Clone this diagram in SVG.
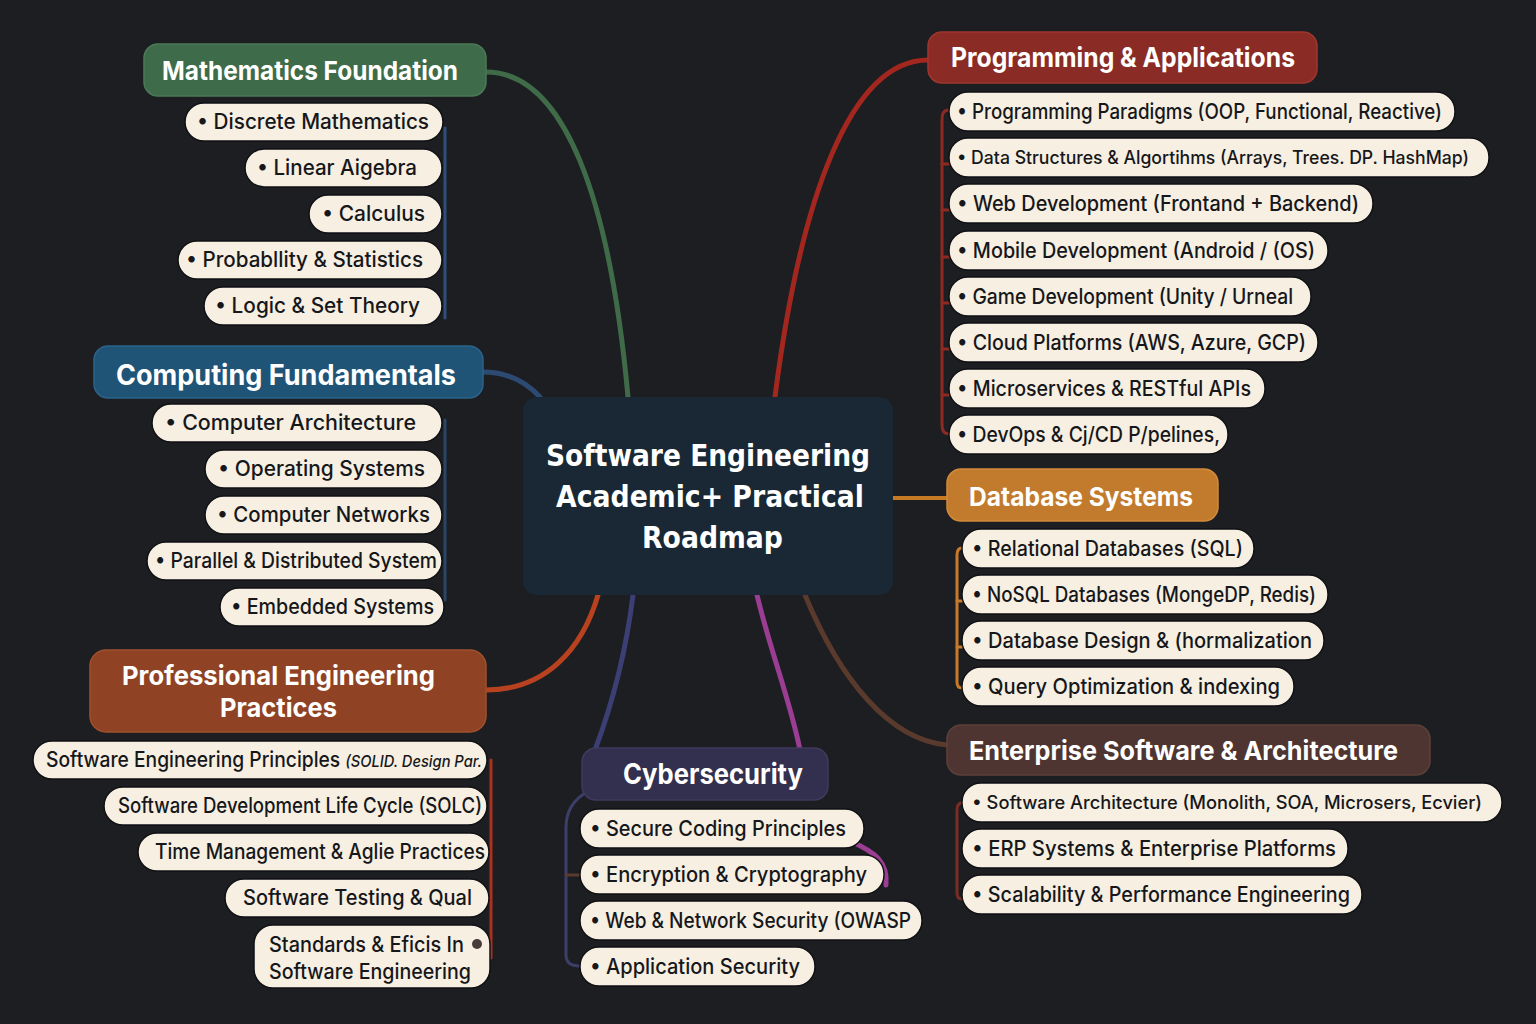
<svg xmlns="http://www.w3.org/2000/svg" width="1536" height="1024" viewBox="0 0 1536 1024">
<style>
.bg{fill:#1c1e22}
.item rect{fill:#f6efe2;stroke:#101114;stroke-width:1.5}
.it{font-family:Inter,"Noto Sans","Liberation Sans",sans-serif;font-size:21px;font-weight:500;fill:#16171a}
.itn{font-size:18px}
.ht{font-family:Inter,"Noto Sans","Liberation Sans",sans-serif;font-weight:700;fill:#ffffff}
.ct{font-family:"DejaVu Sans",Verdana,sans-serif;font-weight:700;font-size:31px;fill:#ffffff}
.conn path,.conn line{fill:none;stroke-linecap:round}
</style>
<rect class="bg" x="0" y="0" width="1536" height="1024"/>

<g id="connectors" class="conn">
  <path d="M486,72 C565,72 610,200 628,397" stroke="#3f6b48" stroke-width="5"/>
  <path d="M483,372 C510,372 528,384 540,397" stroke="#2d4b72" stroke-width="5"/>
  <path d="M775,397 C800,200 850,60 928,60" stroke="#a3271f" stroke-width="5"/>
  <line x1="893" y1="498" x2="947" y2="498" stroke="#c77a24" stroke-width="4"/>
  <path d="M805,595 C840,680 890,740 947,745" stroke="#5a3a2c" stroke-width="5"/>
  <path d="M486,690 C545,690 582,650 598,595" stroke="#b8421f" stroke-width="5"/>
  <path d="M633,595 C625,660 610,710 595,750" stroke="#3b3f73" stroke-width="5"/>
  <path d="M757,595 C770,650 790,700 800,750" stroke="#9a3d93" stroke-width="5"/>
  <path d="M852,842 C875,852 888,862 886,885" stroke="#9a3d93" stroke-width="5"/>
  <line x1="445" y1="128" x2="445" y2="318" stroke="#2f4f7a" stroke-width="3"/>
  <line x1="445" y1="420" x2="445" y2="600" stroke="#2a4566" stroke-width="3"/>
  <line x1="491" y1="760" x2="491" y2="958" stroke="#a8321f" stroke-width="3"/>
  <path d="M949,110 C943,110 942,114 942,120 L942,425 C942,430 944,434 949,434" stroke="#8e2a22" stroke-width="3"/>
  <path d="M942,164 H949 M942,210 H949 M942,257 H949 M942,303 H949 M942,349 H949 M942,395 H949" stroke="#8e2a22" stroke-width="3"/>
  <path d="M962,548 C958,548 957,551 957,555 L957,682 C957,686 959,688 962,688" stroke="#c67a2a" stroke-width="3"/>
  <path d="M957,601 H962 M957,647 H962" stroke="#c67a2a" stroke-width="3"/>
  <path d="M962,803 C958,803 957,806 957,810 L957,893 C957,897 959,899 962,899" stroke="#7a2d22" stroke-width="3"/>
  <path d="M590,790 C572,800 566,812 566,828 L566,955 C566,962 570,966 580,966" stroke="#3b3f6a" stroke-width="3"/>
  <path d="M566,875 H580" stroke="#5a3a2c" stroke-width="3"/>
</g>

<g id="central">
  <rect x="523" y="397" width="370" height="198" rx="14" fill="#1a2835"/>
  <text class="ct" x="546" y="466" textLength="324" lengthAdjust="spacingAndGlyphs">Software Engineering</text>
  <text class="ct" x="556" y="507" textLength="308" lengthAdjust="spacingAndGlyphs">Academic+ Practical</text>
  <text class="ct" x="642" y="548" textLength="141" lengthAdjust="spacingAndGlyphs">Roadmap</text>
</g>

<!-- Mathematics -->
<g id="math-header">
  <rect x="144" y="44" width="342" height="52" rx="14" fill="#3e6b49" stroke="#4b7a56" stroke-width="1.5"/>
  <text class="ht" x="162" y="80" font-size="26" textLength="296" lengthAdjust="spacingAndGlyphs">Mathematics Foundation</text>
</g>
<g id="math-1" class="item"><rect x="185" y="103" width="258" height="38" rx="19"/><text class="it" x="197" y="129" textLength="232" lengthAdjust="spacingAndGlyphs">• Discrete Mathematics</text></g>
<g id="math-2" class="item"><rect x="245" y="149" width="197" height="38" rx="19"/><text class="it" x="257" y="175" textLength="160" lengthAdjust="spacingAndGlyphs">• Linear Aigebra</text></g>
<g id="math-3" class="item"><rect x="309" y="195" width="133" height="38" rx="19"/><text class="it" x="322" y="221" textLength="103" lengthAdjust="spacingAndGlyphs">• Calculus</text></g>
<g id="math-4" class="item"><rect x="178" y="241" width="264" height="38" rx="19"/><text class="it" x="186" y="267" textLength="237" lengthAdjust="spacingAndGlyphs">• Probabllity &amp; Statistics</text></g>
<g id="math-5" class="item"><rect x="204" y="287" width="238" height="38" rx="19"/><text class="it" x="215" y="313" textLength="205" lengthAdjust="spacingAndGlyphs">• Logic &amp; Set Theory</text></g>

<!-- Computing -->
<g id="comp-header">
  <rect x="94" y="346" width="389" height="52" rx="14" fill="#1f5477" stroke="#2b6389" stroke-width="1.5"/>
  <text class="ht" x="116" y="385" font-size="28" textLength="340" lengthAdjust="spacingAndGlyphs">Computing Fundamentals</text>
</g>
<g id="comp-1" class="item"><rect x="152" y="404" width="290" height="38" rx="19"/><text class="it" x="165" y="430" textLength="251" lengthAdjust="spacingAndGlyphs">• Computer Architecture</text></g>
<g id="comp-2" class="item"><rect x="205" y="450" width="237" height="38" rx="19"/><text class="it" x="218" y="476" textLength="207" lengthAdjust="spacingAndGlyphs">• Operating Systems</text></g>
<g id="comp-3" class="item"><rect x="205" y="496" width="237" height="38" rx="19"/><text class="it" x="217" y="522" textLength="213" lengthAdjust="spacingAndGlyphs">• Computer Networks</text></g>
<g id="comp-4" class="item"><rect x="147" y="542" width="295" height="38" rx="19"/><text class="it" x="155" y="568" textLength="282" lengthAdjust="spacingAndGlyphs">• Parallel &amp; Distributed System</text></g>
<g id="comp-5" class="item"><rect x="220" y="588" width="224" height="38" rx="19"/><text class="it" x="231" y="614" textLength="203" lengthAdjust="spacingAndGlyphs">• Embedded Systems</text></g>

<!-- Professional -->
<g id="prof-header">
  <rect x="90" y="650" width="396" height="82" rx="16" fill="#8f4324" stroke="#a0502c" stroke-width="1.5"/>
  <text class="ht" x="122" y="685" font-size="26" textLength="313" lengthAdjust="spacingAndGlyphs">Professional Engineering</text>
  <text class="ht" x="220" y="717" font-size="26" textLength="117" lengthAdjust="spacingAndGlyphs">Practices</text>
</g>
<g id="prof-1" class="item"><rect x="33" y="741" width="454" height="38" rx="19"/><text class="it" x="46" y="767" font-size="18" textLength="436" lengthAdjust="spacingAndGlyphs">Software Engineering Principles  <tspan font-style="italic" font-size="16">(SOLID. Design Par.</tspan></text></g>
<g id="prof-2" class="item"><rect x="104" y="787" width="383" height="38" rx="19"/><text class="it" x="118" y="813" textLength="364" lengthAdjust="spacingAndGlyphs">Software Development Life Cycle (SOLC)</text></g>
<g id="prof-3" class="item"><rect x="138" y="833" width="351" height="38" rx="19"/><text class="it" x="155" y="859" textLength="330" lengthAdjust="spacingAndGlyphs">Time Management &amp; Aglie Practices</text></g>
<g id="prof-4" class="item"><rect x="225" y="879" width="264" height="38" rx="19"/><text class="it" x="243" y="905" textLength="229" lengthAdjust="spacingAndGlyphs">Software Testing &amp; Qual</text></g>
<g id="prof-5" class="item"><rect x="254" y="925" width="236" height="63" rx="19"/><text class="it" x="269" y="952" textLength="195" lengthAdjust="spacingAndGlyphs">Standards &amp; Eficis In</text><circle cx="477" cy="944" r="5" fill="#4a3b3b"/><text class="it" x="269" y="979" textLength="202" lengthAdjust="spacingAndGlyphs">Software Engineering</text></g>

<!-- Programming -->
<g id="prog-header">
  <rect x="928" y="32" width="389" height="51" rx="14" fill="#8a2b25" stroke="#a0362e" stroke-width="1.5"/>
  <text class="ht" x="951" y="67" font-size="27" textLength="344" lengthAdjust="spacingAndGlyphs">Programming &amp; Applications</text>
</g>
<g id="prog-1" class="item"><rect x="949" y="92" width="506" height="39" rx="19"/><text class="it" x="957" y="119" textLength="485" lengthAdjust="spacingAndGlyphs">• Programming Paradigms (OOP, Functional, Reactive)</text></g>
<g id="prog-2" class="item"><rect x="949" y="138" width="540" height="39" rx="19"/><text class="it itn" x="957" y="164" textLength="512" lengthAdjust="spacingAndGlyphs">• Data Structures &amp; Algortihms (Arrays, Trees. DP. HashMap)</text></g>
<g id="prog-3" class="item"><rect x="949" y="184" width="424" height="39" rx="19"/><text class="it" x="957" y="211" textLength="402" lengthAdjust="spacingAndGlyphs">• Web Development (Frontand + Backend)</text></g>
<g id="prog-4" class="item"><rect x="949" y="231" width="379" height="39" rx="19"/><text class="it" x="957" y="258" textLength="358" lengthAdjust="spacingAndGlyphs">• Mobile Development (Android / (OS)</text></g>
<g id="prog-5" class="item"><rect x="949" y="277" width="362" height="39" rx="19"/><text class="it" x="957" y="304" textLength="336" lengthAdjust="spacingAndGlyphs">• Game Development (Unity / Urneal</text></g>
<g id="prog-6" class="item"><rect x="949" y="323" width="369" height="39" rx="19"/><text class="it" x="957" y="350" textLength="349" lengthAdjust="spacingAndGlyphs">• Cloud Platforms (AWS, Azure, GCP)</text></g>
<g id="prog-7" class="item"><rect x="949" y="369" width="316" height="39" rx="19"/><text class="it" x="957" y="396" textLength="294" lengthAdjust="spacingAndGlyphs">• Microservices &amp; RESTful APIs</text></g>
<g id="prog-8" class="item"><rect x="949" y="415" width="279" height="39" rx="19"/><text class="it" x="957" y="442" textLength="263" lengthAdjust="spacingAndGlyphs">• DevOps &amp; Cj/CD P/pelines,</text></g>

<!-- Database -->
<g id="db-header">
  <rect x="947" y="469" width="271" height="52" rx="14" fill="#c27b2d" stroke="#d28a3a" stroke-width="1.5"/>
  <text class="ht" x="969" y="506" font-size="26" textLength="224" lengthAdjust="spacingAndGlyphs">Database Systems</text>
</g>
<g id="db-1" class="item"><rect x="962" y="529" width="292" height="39" rx="19"/><text class="it" x="972" y="556" textLength="271" lengthAdjust="spacingAndGlyphs">• Relational Databases (SQL)</text></g>
<g id="db-2" class="item"><rect x="962" y="575" width="366" height="39" rx="19"/><text class="it" x="972" y="602" textLength="344" lengthAdjust="spacingAndGlyphs">• NoSQL Databases (MongeDP, Redis)</text></g>
<g id="db-3" class="item"><rect x="962" y="621" width="362" height="39" rx="19"/><text class="it" x="972" y="648" textLength="340" lengthAdjust="spacingAndGlyphs">• Database Design &amp; (hormalization</text></g>
<g id="db-4" class="item"><rect x="962" y="667" width="332" height="39" rx="19"/><text class="it" x="972" y="694" textLength="308" lengthAdjust="spacingAndGlyphs">• Query Optimization &amp; indexing</text></g>

<!-- Enterprise -->
<g id="ent-header">
  <rect x="947" y="725" width="483" height="50" rx="14" fill="#4f3531" stroke="#5c403a" stroke-width="1.5"/>
  <text class="ht" x="969" y="760" font-size="26" textLength="429" lengthAdjust="spacingAndGlyphs">Enterprise Software &amp; Architecture</text>
</g>
<g id="ent-1" class="item"><rect x="962" y="783" width="540" height="39" rx="19"/><text class="it itn" x="972" y="809" textLength="510" lengthAdjust="spacingAndGlyphs">• Software Architecture (Monolith, SOA, Microsers, Ecvier)</text></g>
<g id="ent-2" class="item"><rect x="962" y="829" width="386" height="39" rx="19"/><text class="it" x="972" y="856" textLength="364" lengthAdjust="spacingAndGlyphs">• ERP Systems &amp; Enterprise Platforms</text></g>
<g id="ent-3" class="item"><rect x="962" y="875" width="400" height="39" rx="19"/><text class="it" x="972" y="902" textLength="378" lengthAdjust="spacingAndGlyphs">• Scalability &amp; Performance Engineering</text></g>

<!-- Cybersecurity -->
<g id="cyber-header">
  <rect x="582" y="748" width="246" height="52" rx="14" fill="#332f4e" stroke="#3f3a5e" stroke-width="1.5"/>
  <text class="ht" x="623" y="784" font-size="28" textLength="180" lengthAdjust="spacingAndGlyphs">Cybersecurity</text>
</g>
<g id="cyber-1" class="item"><rect x="580" y="809" width="284" height="39" rx="19"/><text class="it" x="590" y="836" textLength="256" lengthAdjust="spacingAndGlyphs">• Secure Coding Principles</text></g>
<g id="cyber-2" class="item"><rect x="580" y="855" width="304" height="39" rx="19"/><text class="it" x="590" y="882" textLength="277" lengthAdjust="spacingAndGlyphs">• Encryption &amp; Cryptography</text></g>
<g id="cyber-3" class="item"><rect x="580" y="901" width="342" height="39" rx="19"/><text class="it" x="590" y="928" textLength="321" lengthAdjust="spacingAndGlyphs">• Web &amp; Network Security (OWASP</text></g>
<g id="cyber-4" class="item"><rect x="580" y="947" width="235" height="39" rx="19"/><text class="it" x="590" y="974" textLength="210" lengthAdjust="spacingAndGlyphs">• Application Security</text></g>
</svg>
